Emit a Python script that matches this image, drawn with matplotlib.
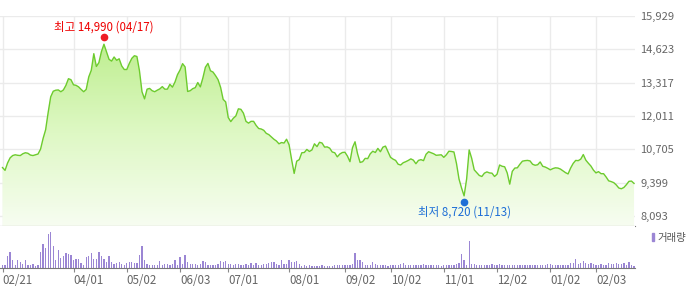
import matplotlib.pyplot as plt
import matplotlib.transforms as mtransforms
from matplotlib.colors import LinearSegmentedColormap
from matplotlib.patches import Rectangle
import numpy as np

plt.rcParams['font.family'] = ['Noto Sans CJK KR', 'DejaVu Sans']

# 종가 (거래일 순서)
price = [
    9990, 9880, 10170, 10370, 10460, 10490, 10470, 10460, 10530, 10570,
    10550, 10480, 10460, 10490, 10520, 10710, 11130, 11470, 12150, 12760,
    12980, 13020, 13030, 12960, 13030, 13210, 13470, 13430, 13230, 13210,
    13150, 13050, 12960, 13050, 13540, 13800, 14450, 13950, 14100, 14530,
    14820, 14530, 14230, 14160, 14320, 14190, 14250, 13970, 13830, 13830,
    14070, 14270, 14370, 14340, 13780, 12960, 12680, 13060, 13090, 13000,
    12960, 13020, 13070, 13160, 13060, 13060, 13250, 13140, 13340, 13630,
    13810, 14060, 13930, 12970, 13000, 13080, 13120, 13320, 13150, 13500,
    13920, 14070, 13780, 13730, 13590, 13430, 13130, 12660, 12560, 11950,
    11790, 11920, 12010, 12290, 12270, 12120, 11800, 11730, 11800, 11800,
    11640, 11520, 11500, 11450, 11330, 11280, 11190, 11100, 11030, 10920,
    10970, 10950, 11100, 10880, 10300, 9760, 10240, 10300, 10570, 10580,
    10700, 10620, 10680, 10920, 10810, 10980, 10950, 10790, 10800, 10750,
    10600, 10570, 10410, 10520, 10580, 10590, 10440, 10220, 10770, 11000,
    10530, 10190, 10220, 10350, 10340, 10530, 10630, 10580, 10740, 10610,
    10790, 10830, 10610, 10390, 10320, 10270, 10120, 10090, 10180, 10220,
    10270, 10330, 10280, 10140, 10270, 10300, 10260, 10510, 10610, 10570,
    10530, 10470, 10480, 10490, 10390, 10490, 10630, 10620, 10600, 10150,
    9540, 9190, 8880, 9540, 10680, 10350, 9900, 9790, 9680, 9640,
    9770, 9820, 9780, 9770, 9640, 9730, 10090, 10040, 10020, 9780,
    9340, 9840, 9970, 9980, 10120, 10240, 10260, 10270, 10250, 10120,
    10080, 10100, 10210, 10040, 10010, 9960, 9900, 9950, 9980, 9970,
    9930, 9860, 9790, 9740, 9970, 10150, 10270, 10260, 10320, 10500,
    10280, 10160, 10050, 9890, 9780, 9830, 9750, 9750, 9620, 9470,
    9440, 9400, 9310, 9190, 9160, 9210, 9320, 9450, 9460, 9370,
]

# 거래량 (천주)
volume = [
    33, 33, 123, 163, 83, 33, 83, 57, 40, 83,
    33, 33, 43, 23, 33, 163, 243, 203, 343, 363,
    217, 83, 183, 100, 117, 150, 140, 127, 83, 90,
    90, 50, 33, 107, 123, 150, 90, 90, 157, 117,
    90, 60, 123, 60, 43, 50, 60, 40, 33, 50,
    60, 60, 50, 50, 133, 223, 83, 40, 33, 33,
    33, 33, 67, 33, 43, 43, 33, 43, 83, 27,
    107, 43, 133, 57, 43, 43, 43, 27, 43, 73,
    60, 33, 33, 33, 33, 40, 73, 60, 67, 40,
    40, 33, 40, 40, 27, 33, 43, 33, 50, 27,
    50, 33, 33, 40, 40, 50, 60, 57, 40, 27,
    83, 43, 43, 83, 57, 57, 73, 40, 23, 27,
    23, 27, 23, 23, 23, 23, 27, 23, 23, 23,
    23, 27, 33, 30, 30, 30, 30, 30, 43, 147,
    77, 83, 57, 33, 27, 33, 57, 40, 27, 27,
    27, 27, 17, 27, 27, 27, 33, 40, 50, 27,
    27, 27, 27, 27, 27, 33, 40, 27, 27, 27,
    27, 27, 27, 17, 27, 33, 27, 27, 33, 40,
    50, 137, 83, 33, 273, 43, 40, 33, 33, 33,
    33, 27, 33, 43, 33, 33, 43, 33, 33, 27,
    33, 33, 27, 33, 33, 33, 27, 27, 27, 27,
    27, 33, 27, 27, 33, 40, 40, 33, 33, 27,
    27, 27, 33, 33, 50, 50, 93, 40, 50, 67,
    50, 40, 50, 40, 27, 27, 40, 33, 27, 50,
    40, 40, 50, 40, 40, 50, 27, 57, 27, 23,
]

tick_idx = [0, 28, 49, 70, 89, 113, 135, 153, 174, 195, 216, 234]
tick_labels = ['02/21', '04/01', '05/02', '06/03', '07/01', '08/01',
               '09/02', '10/02', '11/01', '12/02', '01/02', '02/03']
y_ticks = [8093, 9399, 10705, 12011, 13317, 14623, 15929]

high_idx, high_val, high_date = 40, 14990, '04/17'
low_idx, low_val, low_date = 182, 8720, '11/13'

days = np.arange(len(price))
x0, x1 = -0.99, len(price) - 1 + 0.39
y0, y1 = 7701, 15945

fig = plt.figure(figsize=(7, 2.89), dpi=100)
ax = fig.add_axes([0, 63 / 289, 635 / 700, 210.5 / 289])
vax = fig.add_axes([0, 21 / 289, 635 / 700, 42 / 289])

# 주가 영역 (그라데이션 채움)
grad = np.linspace(0, 1, 256).reshape(-1, 1)
cmap = LinearSegmentedColormap.from_list('g', ['#f7fdf1', '#def8c4', '#bdee8e'])
im = ax.imshow(grad, cmap=cmap, aspect='auto', origin='lower',
               extent=[x0, x1, y0, 15000], zorder=1)
poly = ax.fill_between(days, price, y0, color='none', lw=0)
im.set_clip_path(poly.get_paths()[0], transform=ax.transData)
ax.plot(days, price, color='#6dcb2e', lw=1.0, zorder=3)

ax.set_xlim(x0, x1)
ax.set_ylim(y0, y1)
ax.set_xticks(tick_idx)
ax.set_yticks(y_ticks)
ax.set_yticklabels([f'{v:,}' for v in y_ticks])
ax.yaxis.tick_right()
ax.tick_params(axis='x', length=0, labelbottom=False)
ax.tick_params(axis='y', length=0, pad=4, labelsize=8, labelcolor='#666666')
ax.grid(color='#ebebeb', lw=1, zorder=0)
ax.set_axisbelow(True)
for s in ['top', 'left', 'right']:
    ax.spines[s].set_visible(False)
ax.spines['bottom'].set_color('#777777')
ax.spines['bottom'].set_zorder(4)

# 최고 / 최저 표시
up = mtransforms.offset_copy(ax.transData, fig=fig, x=0, y=3, units='dots')
dn = mtransforms.offset_copy(ax.transData, fig=fig, x=0, y=-2, units='dots')
ax.plot(high_idx, high_val, 'o', color='#ee1c25', ms=4.5, transform=up, zorder=5)
ax.plot(low_idx, low_val, 'o', color='#1f6fd6', ms=4.5, transform=dn, zorder=5)
ax.annotate(f'최고 {high_val:,} ({high_date})', (high_idx, high_val), xytext=(0, 13),
            textcoords='offset pixels', ha='center', va='center',
            color='#ee0000', fontsize=8.3)
ax.annotate(f'최저 {low_val:,} ({low_date})', (low_idx, low_val), xytext=(0, -12),
            textcoords='offset pixels', ha='center', va='center',
            color='#1f6fd6', fontsize=8.3)

# 거래량
vax.bar(days, volume, width=0.5, color='#9b86d4', lw=0)
vax.set_xlim(x0, x1)
vax.set_ylim(0, 420)
vax.set_yticks([])
vax.set_xticks(tick_idx)
vax.set_xticklabels(tick_labels)
for lbl in vax.get_xticklabels():
    lbl.set_ha('left')
vax.tick_params(axis='x', length=3, color='#888888', pad=1.5,
                labelsize=8.3, labelcolor='#666666')
for s in ['top', 'left', 'right']:
    vax.spines[s].set_visible(False)
vax.spines['bottom'].set_color('#777777')

fig.patches.append(Rectangle((652 / 700, 1 - 241 / 289), 2.2 / 700, 8 / 289,
                             transform=fig.transFigure, color='#9b86d4'))
fig.text(657 / 700, 1 - 237.5 / 289, '거래량', fontsize=7.5, color='#555555',
         va='center', ha='left')

fig.savefig('out.png', dpi=100)
